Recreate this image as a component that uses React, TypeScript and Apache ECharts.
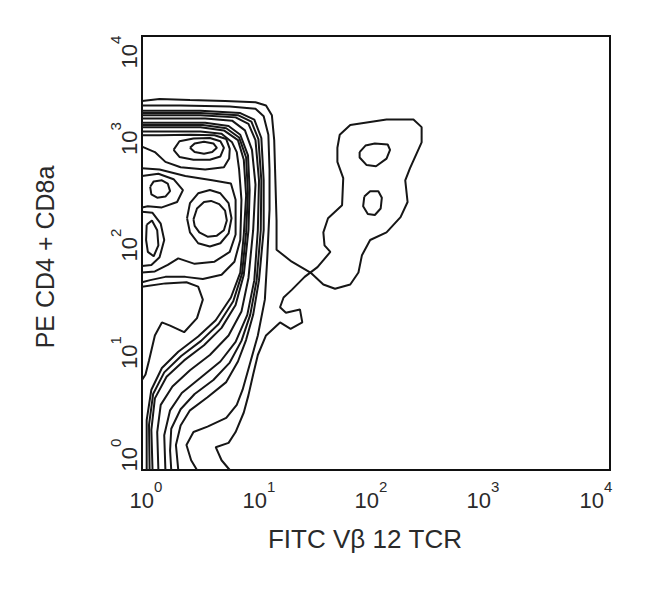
import React, { useEffect, useRef } from "react";
import * as echarts from "echarts";

// Axis decades (log10 units) and tick exponents
const tickExponents = [0, 1, 2, 3, 4];
const xTitle = "FITC Vβ 12 TCR";
const yTitle = "PE CD4 + CD8a";

// Contour lines, points given as [log10(FITC), log10(PE)]
const contourL1 = [[0,3.40],[0.15,3.42],[0.41,3.41],[0.71,3.40],[0.97,3.39],[1.06,3.36],[1.11,3.27],[1.13,3.04],[1.14,2.67],[1.15,2.30],[1.15,2.03],[1.28,1.92],[1.44,1.82],[1.55,1.71],[1.65,1.67],[1.78,1.71],[1.85,1.82],[1.88,1.98],[1.95,2.12],[2.09,2.19],[2.21,2.33],[2.27,2.47],[2.25,2.67],[2.29,2.78],[2.39,3.02],[2.39,3.16],[2.32,3.23],[2.09,3.23],[1.78,3.18],[1.69,3.09],[1.67,2.97],[1.67,2.84],[1.72,2.69],[1.71,2.44],[1.59,2.32],[1.55,2.19],[1.56,2.07],[1.61,2.01],[1.50,1.87],[1.39,1.78],[1.28,1.66],[1.21,1.59],[1.18,1.50],[1.23,1.45],[1.35,1.48],[1.37,1.36],[1.27,1.30],[1.18,1.36],[1.06,1.24],[0.99,1.06],[0.95,0.88],[0.91,0.69],[0.87,0.53],[0.80,0.35],[0.74,0.25],[0.63,0.21],[0.68,0.09],[0.75,0]];
const contourL2 = [[0,3.36],[0.33,3.36],[0.75,3.35],[0.97,3.33],[1.04,3.26],[1.08,3.09],[1.09,2.77],[1.09,2.40],[1.07,1.94],[1.05,1.57],[0.99,1.24],[0.92,0.97],[0.86,0.74],[0.81,0.60],[0.72,0.48],[0.56,0.40],[0.44,0.35],[0.38,0.23],[0.42,0.09],[0.47,0]];
const contourL3 = [[0,3.31],[0.50,3.31],[0.84,3.29],[0.96,3.23],[1.02,3.06],[1.04,2.67],[1.04,2.21],[1.00,1.75],[0.95,1.43],[0.89,1.20],[0.82,1.00],[0.72,0.81],[0.56,0.67],[0.41,0.55],[0.33,0.41],[0.29,0.23],[0.31,0]];
const contourL3b = [[0,3.29],[0.50,3.29],[0.82,3.27],[0.935,3.21],[0.995,3.05],[1.02,2.67],[1.015,2.21],[0.98,1.75],[0.925,1.43],[0.85,1.19],[0.75,0.99],[0.61,0.83],[0.45,0.70],[0.33,0.56],[0.25,0.38],[0.24,0.18],[0.25,0]];
const contourL4 = [[0,3.27],[0.50,3.27],[0.80,3.25],[0.91,3.19],[0.97,3.04],[1.00,2.67],[0.99,2.21],[0.96,1.75],[0.90,1.43],[0.80,1.18],[0.67,1.00],[0.50,0.85],[0.34,0.71],[0.24,0.55],[0.19,0.32],[0.20,0]];
const contourL5 = [[0,3.24],[0.54,3.24],[0.77,3.22],[0.88,3.13],[0.94,2.95],[0.97,2.63],[0.95,2.21],[0.91,1.77],[0.85,1.46],[0.74,1.24],[0.58,1.06],[0.41,0.92],[0.26,0.77],[0.16,0.60],[0.13,0.35],[0.14,0]];
const contourL6 = [[0,3.20],[0.54,3.20],[0.74,3.17],[0.84,3.09],[0.906,2.90],[0.92,2.58],[0.91,2.21],[0.87,1.80],[0.80,1.52],[0.68,1.31],[0.53,1.15],[0.36,1.01],[0.21,0.86],[0.11,0.66],[0.08,0.37],[0.09,0]];
const contourL6b = [[0,3.18],[0.52,3.18],[0.72,3.15],[0.83,3.065],[0.89,2.88],[0.905,2.555],[0.89,2.19],[0.855,1.81],[0.78,1.555],[0.655,1.345],[0.505,1.19],[0.335,1.05],[0.19,0.90],[0.095,0.70],[0.06,0.415],[0.065,0]];
const contourL7 = [[0,3.16],[0.50,3.16],[0.70,3.13],[0.82,3.04],[0.87,2.86],[0.89,2.53],[0.87,2.17],[0.84,1.82],[0.76,1.59],[0.63,1.38],[0.48,1.23],[0.31,1.09],[0.17,0.94],[0.08,0.74],[0.04,0.46],[0.04,0]];
const contourBay = [[0,1.69],[0.20,1.72],[0.38,1.73],[0.48,1.69],[0.52,1.57],[0.47,1.40],[0.36,1.27],[0.24,1.33],[0.17,1.36],[0.11,1.24],[0.06,1.01],[0.03,0.88],[0,0.83]];
const contourU1 = [[0,3.12],[0.50,3.12],[0.68,3.10],[0.77,3.02],[0.81,2.93],[0.83,2.77],[0.85,2.49],[0.84,2.12],[0.79,1.92],[0.68,1.80],[0.52,1.76],[0.37,1.78],[0.20,1.78],[0.07,1.75],[0,1.73]];
const contourTop = [[0,2.98],[0.11,2.93],[0.20,2.84],[0.33,2.79],[0.54,2.77],[0.70,2.79],[0.745,2.87],[0.75,2.96],[0.72,3.05],[0.62,3.085],[0.41,3.09],[0.15,3.085],[0,3.085]];
const contourMid = [[0,2.78],[0.15,2.77],[0.37,2.71],[0.60,2.67],[0.76,2.64],[0.80,2.49],[0.80,2.17],[0.75,2.01],[0.62,1.92],[0.45,1.90],[0.31,1.95],[0.22,1.89],[0.11,1.83],[0,1.82]];
const peak1Outer = [[0.27,2.95],[0.32,3.03],[0.44,3.055],[0.58,3.06],[0.67,3.03],[0.70,2.97],[0.67,2.89],[0.58,2.86],[0.44,2.86],[0.32,2.885],[0.27,2.95]];
const peak1Inner = [[0.41,2.97],[0.45,3.01],[0.53,3.025],[0.61,3.01],[0.64,2.97],[0.60,2.93],[0.53,2.915],[0.45,2.93],[0.41,2.97]];
const peak2Outer = [[0.385,2.32],[0.41,2.46],[0.48,2.55],[0.58,2.58],[0.67,2.55],[0.74,2.46],[0.765,2.32],[0.74,2.18],[0.67,2.09],[0.58,2.06],[0.48,2.09],[0.41,2.19],[0.385,2.32]];
const peak2Inner = [[0.44,2.31],[0.47,2.41],[0.53,2.47],[0.59,2.48],[0.66,2.45],[0.71,2.39],[0.725,2.30],[0.70,2.21],[0.64,2.16],[0.56,2.15],[0.49,2.19],[0.45,2.25],[0.44,2.31]];
const peak3Outer = [[0,2.71],[0.14,2.73],[0.27,2.68],[0.35,2.58],[0.30,2.47],[0.17,2.42],[0.05,2.43],[0,2.42]];
const peak3Inner = [[0.07,2.61],[0.10,2.66],[0.17,2.67],[0.22,2.64],[0.24,2.57],[0.20,2.52],[0.13,2.51],[0.08,2.54],[0.07,2.61]];
const lowLeftOuter = [[0,2.38],[0.09,2.37],[0.16,2.27],[0.19,2.12],[0.15,1.96],[0.08,1.89],[0,1.88]];
const lowLeftInner = [[0.04,2.26],[0.085,2.30],[0.13,2.21],[0.14,2.07],[0.10,1.97],[0.05,2.01],[0.035,2.12],[0.04,2.26]];
const rightPeakUpper = [[1.86,2.93],[1.91,2.99],[1.99,3.01],[2.10,3.00],[2.12,2.95],[2.09,2.87],[2.00,2.80],[1.92,2.81],[1.86,2.88],[1.86,2.93]];
const rightPeakLower = [[1.90,2.52],[1.95,2.57],[2.02,2.57],[2.05,2.51],[2.04,2.41],[1.99,2.35],[1.93,2.36],[1.89,2.43],[1.90,2.52]];

const contours = [
  contourL1, contourL2, contourL3, contourL3b, contourL4, contourL5, contourL6, contourL6b, contourL7,
  contourBay, contourU1, contourTop, contourMid,
  peak1Outer, peak1Inner, peak2Outer, peak2Inner, peak3Outer, peak3Inner,
  lowLeftOuter, lowLeftInner, rightPeakUpper, rightPeakLower,
];

const FONT = "Liberation Sans, Arial, sans-serif";
const TEXT = "#2a2a2a";

// label nudges (px) along the axis, per exponent
const xShift = [4, 0, -5, -10, -14];
const yShift = [-15, -9, -8, -6, 16]; // + = down on screen

function buildRich(shifts: number[], vertical: boolean) {
  const rich: Record<string, any> = {};
  tickExponents.forEach((e, i) => {
    const d = shifts[i];
    let padBase = [0, 0, 0, 0];
    let padSup = [0, 0, 0, 0];
    if (!vertical) {
      if (d > 0) padBase = [0, 0, 0, 2 * d];
      else if (d < 0) padSup = [0, -2 * d, 0, 0];
    } else {
      if (d > 0) padSup = [0, 2 * d, 0, 0];
      else if (d < 0) padBase = [0, 0, 0, -2 * d];
    }
    rich["b" + e] = { fontSize: 22, lineHeight: 32, verticalAlign: "bottom", fontFamily: FONT, color: TEXT, padding: padBase };
    rich["s" + e] = { fontSize: 15, lineHeight: 15, verticalAlign: "top", fontFamily: FONT, color: TEXT, padding: padSup };
  });
  return rich;
}

const fmt = (v: number) => {
  const e = Math.round(Math.log10(v));
  return `{b${e}|10}{s${e}|${e}}`;
};

export default function App() {
  const ref = useRef<HTMLDivElement>(null);
  useEffect(() => {
    const chart = echarts.init(ref.current!, null, { renderer: "svg" });
    chart.setOption({
      animation: false,
      backgroundColor: "#ffffff",
      grid: {
        left: 142, top: 36, width: 468, height: 434,
        show: true, borderColor: "#111", borderWidth: 2,
        outerBoundsMode: "none",
      },
      xAxis: {
        type: "log", logBase: 10, min: 1, max: 10000,
        axisLine: { show: false }, axisTick: { show: false }, splitLine: { show: false },
        axisLabel: { margin: 9, fontSize: 22, fontFamily: FONT, color: TEXT, showMinLabel: true, showMaxLabel: true, formatter: fmt, rich: buildRich(xShift, false) },
        name: xTitle, nameLocation: "middle", nameGap: 56,
        nameTextStyle: { fontSize: 26, fontFamily: FONT, color: TEXT, padding: [0, 22, 0, 0] },
      },
      yAxis: {
        type: "log", logBase: 10, min: 1, max: 10000,
        axisLine: { show: false }, axisTick: { show: false }, splitLine: { show: false },
        axisLabel: { margin: 2, rotate: 90, fontSize: 22, fontFamily: FONT, color: TEXT, showMinLabel: true, showMaxLabel: true, formatter: fmt, rich: buildRich(yShift, true) },
        name: yTitle, nameLocation: "middle", nameGap: 85,
        nameTextStyle: { fontSize: 25, fontFamily: FONT, color: TEXT, padding: [0, 8, 0, 0] },
      },
      series: contours.map((c) => ({
        type: "line",
        data: c.map(([a, b]) => [Math.pow(10, a), Math.pow(10, b)]),
        symbol: "none",
        smooth: false,
        silent: true,
        lineStyle: { color: "#161616", width: 2 },
      })),
    });
    return () => chart.dispose();
  }, []);
  return <div ref={ref} style={{ position: "fixed", left: 0, top: 0, width: 650, height: 589 }} />;
}
